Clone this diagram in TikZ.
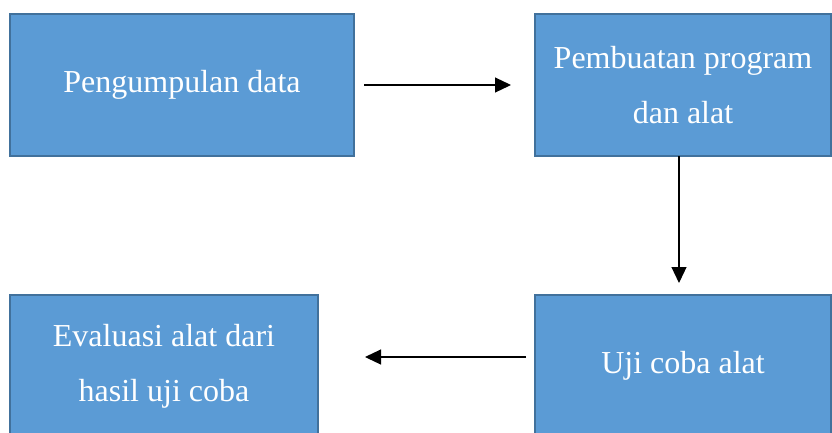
\documentclass[tikz,border=0pt]{standalone}
\usepackage{fontspec}
\setmainfont{Liberation Serif}
\usepackage{tikz}
\usetikzlibrary{arrows.meta,positioning}
\definecolor{boxfill}{HTML}{5B9BD5}
\definecolor{boxline}{HTML}{41719C}
\tikzset{
	flowbox/.style = {rectangle, align=center, fill=boxfill, draw=boxline,
		line width=2pt, outer sep=0pt, text=white,
		font=\fontsize{32}{55}\selectfont},% kotak alur
	flowarr/.style = {-{Triangle[length=16pt,width=15pt]}, line width=1.2pt,
		black}% panah alur
}
\begin{document}
\begin{tikzpicture}
	\useasboundingbox (0,0) rectangle (832pt,-432pt);
	\node [flowbox, minimum width=344pt, minimum height=142pt]
		(kumpul) at (182pt,-85pt) {Pengumpulan data};
	\node [flowbox, minimum width=296pt, minimum height=142pt,
		right=181pt of kumpul] (buat) {Pembuatan program\\dan alat};
	\node [flowbox, minimum width=296pt, minimum height=142pt,
		below=139pt of buat] (uji) {Uji coba alat};
	\node [flowbox, minimum width=308pt, minimum height=142pt,
		left=217pt of uji] (eval) {Evaluasi alat dari\\hasil uji coba};
	% panah antar kotak
	\draw [flowarr, shorten <=10pt, shorten >=24pt] (kumpul) -- (buat);
	\draw [flowarr, shorten >=12pt] ([xshift=-4pt]buat.south) -- ([xshift=-4pt]uji.north);
	\draw [flowarr, shorten <=9pt, shorten >=47pt] ([yshift=9pt]uji.west) -- ([yshift=9pt]eval.east);
\end{tikzpicture}
\end{document}
